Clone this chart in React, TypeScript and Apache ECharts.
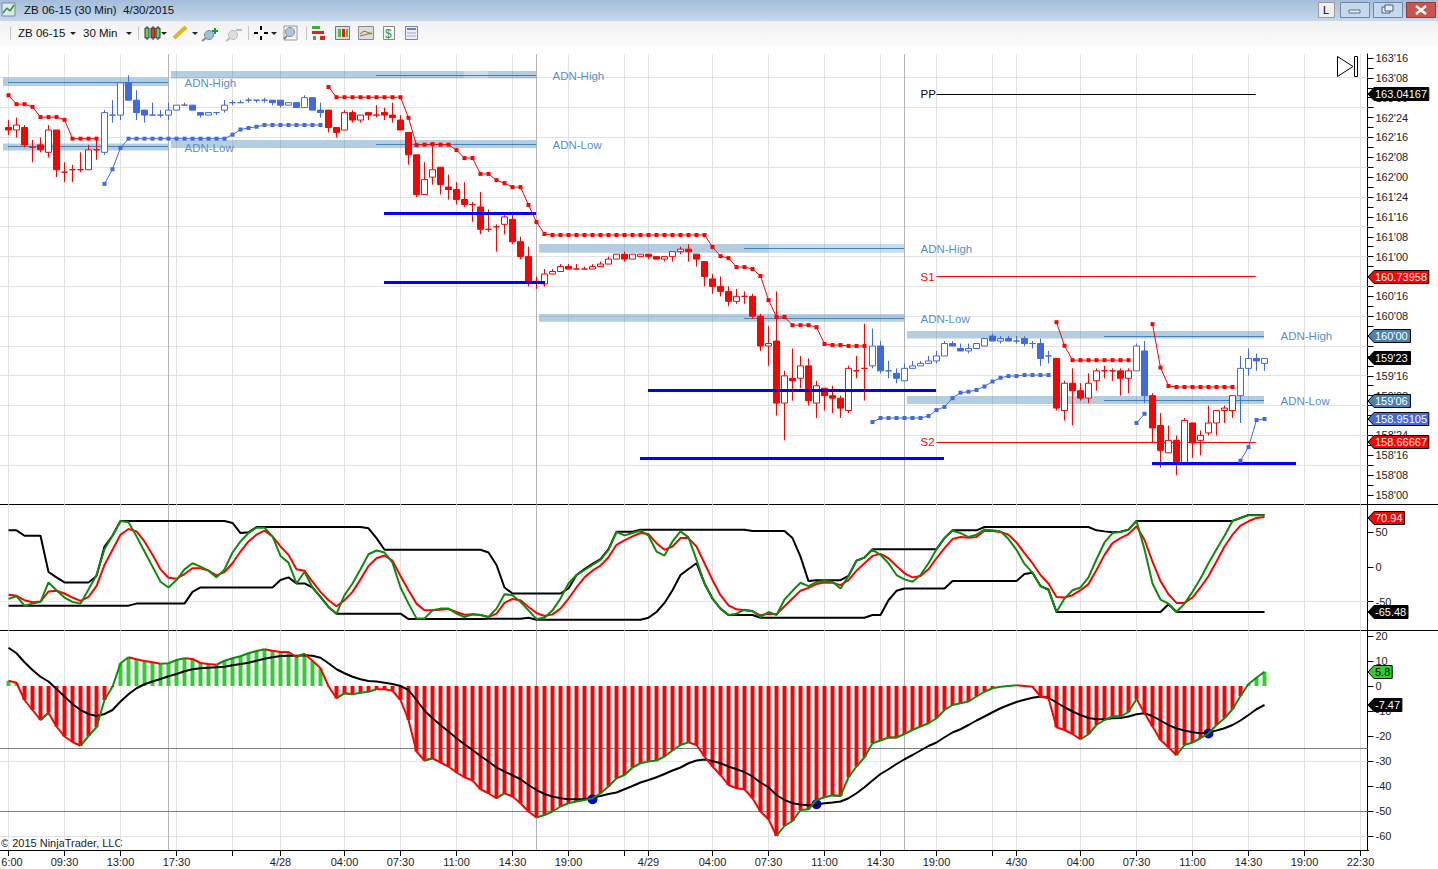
import React, { useEffect, useRef } from "react";
import * as echarts from "echarts";

const _ = null;
// ZB futures prices are quoted in 32nds: every price array holds 32nds above BASE_PRICE.
const BASE_PRICE = 158;
const OPEN32 = [148,147,148,140,141,138,147,130,131,131,131,139,138,153,153,166,159,155,153,153,153,155,157,157,154,153,154,155,158,158,159,159,159,159,159,157,158,156,160,155,155,148,147,154,151,154,153,154,153,151,146,137,121,128,132,124,123,119,117,116,107,108,109,111,102,96,86,85,89,90,92,91,91,91,92,93,95,97,95,96,97,96,95,96,98,99,97,94,87,84,82,78,80,80,72,60,62,37,47,47,52,37,43,40,39,34,50,51,52,60,50,49,46,51,52,53,54,56,61,59,58,59,60,64,62,63,62,63,61,61,56,55,34,45,42,39,46,50,50,50,47,50,58,40,28,17,22,13,29,22,25,29,34,34,40,51,55,53];
const CLOSE32 = [147,149,141,140,139,147,131,130,131,131,139,139,154,153,166,159,154,153,153,153,155,157,157,155,153,154,154,157,158,158,159,159,159,158,157,158,156,160,155,154,148,146,154,151,153,153,153,153,152,147,137,121,127,131,125,123,119,117,117,107,107,108,112,102,96,86,86,89,90,92,91,91,91,92,93,95,97,95,97,97,96,95,96,98,99,98,95,88,84,82,78,80,80,72,60,61,37,48,46,52,38,44,40,39,35,51,50,51,60,50,50,47,51,52,53,54,56,61,60,58,59,61,63,62,63,62,62,61,61,55,56,35,45,42,39,45,50,50,50,47,50,60,40,27,18,22,13,30,21,24,29,34,35,40,51,55,54,55];
const HIGH32 = [151,152,149,143,144,149,147,134,133,138,141,144,155,159,166,169,163,155,158,155,158,157,158,157,154,154,154,159,159,159,160,159,160,159,159,158,158,161,160,158,155,148,155,155,153,154,157,156,158,153,146,137,134,142,132,129,126,126,118,122,115,109,113,114,104,100,88,91,91,93,93,93,92,93,94,96,97,98,97,97,97,96,96,98,100,101,97,94,89,88,84,83,82,81,73,68,82,50,59,56,55,46,43,44,40,52,56,69,67,62,54,51,53,54,54,56,58,62,62,61,61,61,63,65,64,64,64,64,62,63,58,55,46,51,45,49,51,52,51,51,51,61,62,41,33,28,24,31,29,26,36,34,36,40,56,59,57,55];
const LOW32 = [145,144,140,134,138,136,128,126,126,130,131,135,137,150,151,159,151,150,153,152,151,155,157,155,152,153,153,154,157,158,158,158,158,157,156,157,156,156,155,152,146,144,147,150,150,151,152,151,150,147,133,120,121,125,121,119,117,116,110,105,106,98,105,101,95,84,83,84,89,90,91,91,91,91,92,93,95,94,95,96,95,95,94,94,97,94,92,84,81,80,76,77,77,71,58,52,32,22,38,43,36,31,34,33,31,33,47,38,51,49,47,45,46,51,52,53,53,56,60,58,57,59,60,62,61,62,61,60,59,52,53,34,30,28,38,37,42,47,46,40,41,50,37,21,11,17,8,13,15,16,24,24,29,31,29,48,50,50];
const BLUE_CANDLE_RUNS = [[12,39],[108,130],[141,142],[154,157]];
const RED_STOP32 = [161,157.4,157.4,156.3,152.2,152.2,152.2,151.1,143.5,143.5,143.5,143.5,_,_,_,_,_,_,_,_,_,_,_,_,_,_,_,_,_,_,_,_,_,_,_,_,_,_,_,_,164.3,160.2,160.2,160.2,160.2,160.2,160.2,160.2,160.2,160.2,151.9,140.9,141.1,141.3,141.1,141.1,138.9,135.7,135.7,129.3,129.3,126.8,125.6,124,124,116.8,109.9,105.1,104.7,104.7,104.7,104.7,104.7,104.7,104.7,104.7,104.7,104.7,104.7,104.7,104.7,104.7,104.7,104.7,104.7,104.7,104.7,104.7,99.9,96.2,95.4,91.8,91.8,91,88.2,78.5,71.7,71.7,68.4,68.4,68.4,67.6,60.8,60.4,60.4,60,60,60,_,_,_,_,_,_,_,_,_,_,_,_,_,_,_,_,_,_,_,_,_,_,_,69.6,60.1,54.3,54.3,54.3,54.3,54.3,54.3,54.3,54.3,_,_,68.8,51.3,43.9,43.5,43.5,43.5,43.5,43.5,43.5,43.5,43.5,_,_,_,_];
const BLUE_STOP32 = [_,_,_,_,_,_,_,_,_,_,_,_,125.3,131.2,139.8,143.5,143.5,143.5,143.5,143.5,143.5,143.5,143.5,143.5,143.5,143.5,143.5,143.5,145.1,147.2,147.8,148.3,149,149,149,149,149,149,149,149,_,_,_,_,_,_,_,_,_,_,_,_,_,_,_,_,_,_,_,_,_,_,_,_,_,_,_,_,_,_,_,_,_,_,_,_,_,_,_,_,_,_,_,_,_,_,_,_,_,_,_,_,_,_,_,_,_,_,_,_,_,_,_,_,_,_,_,_,29.4,31,31,31,31,31,31,31.8,34.2,35.5,39,41.2,41.6,42.3,43.7,45.7,47.2,47.9,47.9,48.3,48.3,48.3,48.3,_,_,_,_,_,_,_,_,_,_,29,32.7,_,_,_,_,_,_,_,_,_,_,_,13.8,19.3,30.2,30.6];

const STOCH_UPPER = [52.9,52.9,45.1,45.1,45.1,-7.3,-15,-22.3,-22.3,-22.3,-22.3,-13.1,29.6,45.1,66.5,66.5,66.5,66.5,66.5,66.5,66.5,66.5,66.5,66.5,66.5,66.5,66.5,66.5,63.6,49,50,57.7,57.7,57.7,57.7,57.7,57.7,57.7,57.7,57.7,57.7,57.7,57.7,57.7,57.7,55.8,41.7,24.8,24.8,24.8,24.8,24.8,24.8,24.8,24.8,24.8,24.8,24.8,24.8,24.8,20.9,2.9,-29.6,-38.3,-38.3,-38.3,-38.3,-38.3,-38.3,-38.3,-31,-11.6,-2.9,4.4,11.2,25.7,51,51,51,53.9,53.9,53.9,53.9,53.9,53.9,53.9,53.9,53.9,53.9,53.9,53.9,53.9,53.9,52,52,52,52,52,41.7,15,-20.4,-19,-19,-19,-19,-13,9.2,13.6,25.7,25.7,25.7,25.7,25.7,25.7,25.7,25.7,25.7,41.7,53,53,52.9,52.9,57.7,57.7,57.7,57.7,57.7,57.7,57.7,57.7,57.7,57.7,57.7,57.7,57.7,57.7,52.9,51.4,50,50.9,53.9,66.5,66.5,66.5,66.5,66.5,66.5,66.5,66.5,66.5,66.5,66.5,66.5,66.5,70.8,75.2,75.2,75.2];
const STOCH_LOWER = [-55.8,-55.8,-55.8,-55.8,-55.8,-55.8,-55.8,-55.8,-55.8,-55.8,-55.8,-55.8,-55.8,-55.8,-55.8,-55.8,-52.9,-52.9,-52.9,-52.9,-52.9,-52.9,-52.9,-35.9,-29.6,-29.6,-29.6,-29.6,-29.6,-29.6,-29.6,-29.6,-29.6,-29.6,-18.9,-15,-23.8,-23.8,-29.6,-43.2,-57.7,-67.4,-67.4,-67.4,-67.4,-67.4,-67.4,-67.4,-67.4,-67.4,-75.2,-75.2,-75.2,-75.2,-75.2,-75.2,-75.2,-75.2,-75.2,-75.2,-74.7,-74.7,-74.7,-74.7,-74.7,-73.2,-76.1,-76.1,-76.1,-76.1,-76.1,-76.1,-76.1,-76.1,-76.1,-76.1,-76.1,-76.1,-76.1,-76.1,-73.2,-65,-51.9,-33.5,-11.6,-2.9,5.4,-23.8,-45.6,-60.1,-69.3,-69.3,-69.3,-69.3,-73.2,-73.2,-73.2,-73.2,-73.2,-73.2,-73.2,-73.2,-73.2,-73.2,-73.2,-73.2,-73.2,-73.2,-69.3,-69.3,-48,-34.4,-31,-31,-31,-31,-31,-31,-20.4,-20.4,-20.4,-20.4,-20.4,-20.4,-20.4,-20.4,-20.4,-10.2,-8.2,-27.6,-32.5,-65,-65,-65,-65,-65,-65,-65,-65,-65,-65,-65,-65,-65,-65,-53.8,-65,-65,-65,-65,-65,-65,-65,-65,-65,-65,-65,-65];
const STOCH_K = [-46.1,-42.2,-55.8,-52.9,-50.4,-22.3,-33.5,-44.1,-50.4,-52.9,-32.5,-11.6,25.7,45.1,66.5,64.5,44.2,22.3,0.5,-21.3,-29.6,-18.9,-3.4,5.4,0.5,-5.3,-15,-3.4,20.9,36.9,49,56.8,56.8,44.2,16,6.3,-23.8,-6.8,-29.6,-43.2,-57.7,-67.4,-40.7,-23.8,-3.4,18.4,23.8,20.9,6.3,-29.6,-52.9,-74.2,-74.2,-62.6,-60.1,-60.1,-67.4,-72.3,-68.4,-69.3,-72.3,-60.1,-39.3,-40.7,-50.4,-62.6,-75.2,-73.2,-62.6,-45.6,-23.8,-11.6,-4.4,2.9,10.2,24.8,50.5,45.6,49,52.4,45.1,22.3,16.5,36.9,51.4,42.7,10.2,-23.8,-45.6,-60.1,-69.3,-67.4,-61.6,-63.5,-72.3,-65,-69.3,-47,-34.4,-22.8,-27.6,-21.8,-20.4,-21.3,-31,-13.1,9.2,13.6,24.8,17.5,5.4,-11.6,-17.9,-21.3,-11.6,5.4,25.7,41.7,52.4,49,43.2,46.6,53.9,52.9,51.4,40.3,24.8,4.4,-8.2,-27.6,-33.5,-65,-45.6,-33.5,-29.6,-15,11.2,35.4,49,50.5,53.9,66.5,25.7,-23.8,-47,-52.9,-65,-52.9,-35.9,-16.5,5.4,25.7,45.1,66.5,70.8,74.7,74.7,74.7];
const STOCH_D = [-40.2,-41.7,-48,-50.9,-49.9,-35.4,-34.4,-38.3,-44.1,-49,-43.2,-27.6,2.9,24.8,46.6,54.8,51.4,36.9,17.5,-3.4,-15.5,-17,-10.2,-1.9,-1.9,-5.3,-12.1,-7.3,5.4,22.3,36.9,46.6,52.4,44.2,29.6,17.5,-3.4,-5.3,-21.3,-35.9,-48,-56.7,-48,-35.9,-17.9,1.5,12.6,16.5,9.2,-13.1,-33.5,-52.9,-62.6,-62.6,-61.6,-60.6,-65,-68.9,-68.4,-69.3,-72.3,-67.4,-51.9,-46.1,-48,-57.7,-66.4,-70.8,-68.4,-60.1,-45.6,-29.6,-15,-5.3,1.9,14.1,32,38.3,44.2,49,47.5,34.4,24.8,29.6,41.7,41.7,29.6,5.4,-18.9,-40.7,-55.3,-61.1,-62.6,-64,-69.8,-67.4,-68.4,-56.7,-45.6,-34.4,-30.1,-24.7,-22.3,-22.8,-26.2,-18.9,-5.3,5.4,16,18.9,12.6,1.5,-9.2,-15,-13.1,-3.4,12.6,27.2,40.3,43.2,42.2,43.2,52.4,51.9,50.5,46.6,35.4,19.9,5.4,-11.6,-23.8,-43.2,-44.1,-40.7,-33.5,-24.7,-4.4,17.5,34.4,41.7,47.5,58.7,39.3,7.8,-20.4,-39.3,-51.9,-51.9,-44.1,-29.6,-13.1,7.8,29.6,46.6,59.7,66,70.8,72.3];
const MACD_LINE = [2.1,1.3,-5.6,-9.6,-13.6,-10.7,-16.2,-20.2,-22.4,-23.9,-20,-16.5,-5.6,-0.3,9.1,11.5,10.7,10,9.5,8.9,9.1,10.4,11.1,10.8,9.2,8.8,8.5,10.1,11.1,11.9,13.1,14,14.7,14.1,13.6,13.6,11.7,12.8,10.1,7.1,-0.1,-4.9,-2.9,-3.3,-2.7,-2.3,-1.3,-1.3,-1.9,-5.6,-13.6,-26.2,-29.8,-28.9,-30.6,-32.2,-34.6,-36.5,-37.8,-41.3,-42.9,-44.9,-42.9,-44.2,-46.9,-50.2,-52.6,-51.6,-50.2,-48.2,-46.9,-46.2,-45.6,-44.9,-42.9,-40.2,-36.9,-35.6,-32.6,-30.9,-30.2,-29.8,-28.2,-25.8,-23.6,-22.5,-23.6,-28.2,-32.2,-35.6,-39.6,-40.9,-41.3,-44.9,-50.2,-53.3,-60,-56,-54,-49.6,-49.3,-45.6,-44.5,-43.7,-44,-36.5,-32.2,-28.5,-22.9,-21.8,-20.6,-20.6,-19.2,-17.6,-16.2,-14.9,-12.9,-9.6,-7.6,-6.9,-6.2,-4.2,-2.3,-0.9,-0.3,0,0.3,0,-0.3,-4.2,-4.9,-16.5,-17.6,-19.2,-21.3,-19.3,-15.6,-13.6,-12.2,-12.2,-10.4,-5.2,-10.9,-16.2,-21.6,-24.5,-27.7,-23.6,-22.6,-20.9,-18.9,-15.6,-12.9,-9.3,-4,0.8,3.3,5.7];
const MACD_SIGNAL = [15.3,13.1,9.5,6.4,3.7,1.8,-1.2,-4.2,-7.2,-9.6,-11.2,-12,-11.2,-9.6,-6.2,-3.3,-0.9,0.7,1.8,2.8,3.9,4.8,5.9,6.7,7.1,7.3,7.5,7.7,8.3,8.8,9.3,10.1,10.9,11.5,12,12.1,12.1,12.3,12.1,11.3,9.1,6.7,5.1,3.7,2.7,2,1.8,1.3,0.8,0,-1.6,-5.6,-9.8,-12.9,-15.6,-18.2,-20.9,-23.3,-25.6,-28,-30.2,-32.6,-34.2,-35.7,-37.3,-39.6,-41.6,-43.2,-44.2,-44.9,-45.3,-45.3,-45.3,-44.6,-44,-43.2,-42.6,-41.3,-40,-38.6,-37.6,-36.5,-35.2,-33.8,-32.6,-30.9,-29.8,-29.4,-30,-30.9,-32.2,-33.3,-34.4,-36.2,-38.6,-40.5,-43.6,-45.6,-46.9,-47.4,-47.7,-47.4,-46.9,-46.6,-46.2,-44.9,-42.9,-40.5,-37.8,-35.2,-33.3,-31.2,-29.3,-27.6,-25.8,-24,-22.6,-20.5,-18.6,-17.3,-15.6,-13.8,-12.2,-10.5,-8.9,-7.6,-6.4,-5.5,-4.7,-4.2,-4.7,-6.6,-8.5,-10.2,-11.6,-12.8,-13.3,-13.3,-12.9,-12.8,-12.2,-11.3,-10.9,-12,-13.8,-15.6,-17,-17.8,-18.5,-18.9,-18.6,-17.8,-16.9,-15.6,-13.8,-11.6,-9.3,-7.6];
const CROSS_BARS = [73,101,150];
const CROSS_VALUES = [-45.3,-47.3,-19];

const TICK_BARS = [0,7,14,21,28,34,42,49,56,63,70,77,80,88,95,102,109,116,123,126,134,141,148,155,162,169];
const TICK_LABELS = ["6:00","09:30","13:00","17:30","","4/28","04:00","07:30","11:00","14:30","19:00","","4/29","04:00","07:30","11:00","14:30","19:00","","4/30","04:00","07:30","11:00","14:30","19:00","22:30"];
const SESSION_BARS = [20,66,112];
const LAST_AXIS_BAR = 170;

// [from bar, to bar, upper 32nds, lower 32nds]
const ZONES_DARK = [[-0.69,19.94,168.1,164.7],[-0.69,19.94,141.6,138.7],[20.31,56.94,170.8,167.7],[59.94,65.94,170.8,167.7],[20.31,65.94,143,139.7],[66.31,94.94,101.1,97.6],[66.31,111.94,72.9,69.8],[112.31,156.94,66,63],[112.31,156.94,39.9,36.6]];
const ZONES_LIGHT = [[56.94,59.94,170.8,167.7],[94.94,111.94,101.1,97.6]];
// [from bar, to bar, level in 32nds]
const ZONE_MIDS = [[-0.06,19.94,166.2],[-0.06,19.94,140.2],[45.94,65.94,169],[45.94,65.94,141],[91.94,111.94,99.4],[91.94,111.94,71.2],[136.94,156.94,64],[136.94,156.94,38]];
const BLUE_LEVELS = [[46.94,65.94,113.4],[46.94,67.06,85.7],[79.94,115.94,42.2],[78.94,116.94,14.7],[142.94,160.94,12.8]];
const PIVOT_BLACK = [[116,155.9,161.33]];
const PIVOT_RED = [[116,155.9,87.9],[116,155.9,21.33]];
const ADN_TEXTS = [[22,165.9,"ADN-High"],[22,139.7,"ADN-Low"],[68,168.7,"ADN-High"],[68,141,"ADN-Low"],[114,99,"ADN-High"],[114,71,"ADN-Low"],[159,64,"ADN-High"],[159,38,"ADN-Low"]];
const PIVOT_TEXTS = [[114,161.33,"PP","#000000"],[114,87.9,"S1","#ff0000"],[114,21.33,"S2","#ff0000"]];
const PRICE_GRID32 = [168,156,144,132,120,108,96,84,72,60,48,36,24,12];
// 160'24, 160'00 and 159'24 lie wholly behind the price tags in the reference
const PRICE_LABEL32 = [176,168,160,152,144,136,128,120,112,104,96,80,72,48,40,32,24,16,8,0];
const PRICE_TICK32 = [176,172,168,164,160,156,152,148,144,140,136,132,128,124,120,116,112,108,104,100,96,92,88,84,80,76,72,68,64,60,56,52,48,44,40,36,32,28,24,20,16,12,8,4,0];
const STOCH_LABELS = [50,0,-50];
const MACD_LABELS = [20,10,0,-10,-20,-30,-40,-50,-60];
const MACD_GRID = [-30,-60];
const MACD_LEVELS = [-25,-50];
const PRICE_TAGS = [[163.04167,"163.04167","#000000","#ffffff"],[160.73958,"160.73958","#ff0000","#ffffff"],[160,"160'00","#4682b4","#ffffff"],[159.71875,"159'23","#000000","#ffffff"],[159.1875,"159'06","#4682b4","#ffffff"],[158.95105,"158.95105","#4169e1","#ffffff"],[158.66667,"158.66667","#ff0000","#ffffff"]];
const STOCH_TAGS = [[70.94,"70.94","#ff0000","#ffffff"],[-65.48,"-65.48","#000000","#ffffff"]];
const MACD_TAGS = [[5.8,"5.8","#32cd32","#000000"],[-7.47,"-7.47","#000000","#ffffff"]];

const FONT = '"Liberation Sans", Arial, sans-serif';
const GRID_COLOR = "#e2e2e2";
const toPrice = (t: number | null) => (t == null ? null : BASE_PRICE + t / 32);
const crisp = (v: number) => Math.floor(v) + 0.5;
const tickSet = new Set(TICK_BARS.map((b) => b + 1));
const showTick = (index: number) => tickSet.has(index);
const categories = Array.from({ length: LAST_AXIS_BAR + 2 }, (_v, idx) => {
  const k = TICK_BARS.indexOf(idx - 1);
  return k >= 0 ? TICK_LABELS[k] : String(idx);
});
const lead = (arr: (number | null)[]) => [null, ...arr];

const isBlueBar = (i: number) => BLUE_CANDLE_RUNS.some(([a, b]) => i >= a && i <= b);
const candleItems = [
  { value: ["-", "-", "-", "-"] },
  ...OPEN32.map((o, i) => {
    const c = isBlueBar(i) ? "#4169e1" : "#ff0000";
    const fill = CLOSE32[i] > o ? "#ffffff" : c;
    return {
      value: [toPrice(o), toPrice(CLOSE32[i]), toPrice(LOW32[i]), toPrice(HIGH32[i])],
      itemStyle: { color: fill, color0: fill, borderColor: c, borderColor0: c, borderColorDoji: c, borderWidth: 1 },
    };
  }),
];

const slopeSegments = (rising: boolean) => {
  const out: (number | null)[] = MACD_LINE.map(() => null);
  for (let i = 0; i + 1 < MACD_LINE.length; i++) {
    const up = MACD_LINE[i + 1] > MACD_LINE[i];
    if (up === rising) {
      out[i] = MACD_LINE[i];
      out[i + 1] = MACD_LINE[i + 1];
    }
  }
  return out;
};

const xValueAxis = (gridIndex: number) => ({
  type: "value", gridIndex, min: -1, max: LAST_AXIS_BAR, show: false, splitLine: { show: false },
});
const xCatAxis = (gridIndex: number, bottom: boolean) => ({
  type: "category", gridIndex, data: categories, boundaryGap: false, position: "bottom",
  axisLine: { show: bottom, onZero: false, lineStyle: { color: "#000000", width: 1 } },
  axisTick: { show: bottom, interval: showTick, length: 6, lineStyle: { color: "#000000" } },
  axisLabel: { show: bottom, interval: showTick, margin: 6, fontFamily: FONT, fontSize: 11, color: "#222222",
    // the first label is pushed right so that it stays inside the page, as in the reference
    rich: { first: { padding: [0, 0, 0, 7], fontFamily: FONT, fontSize: 11, color: "#222222" } },
    formatter: (v: string) => (v === TICK_LABELS[0] ? `{first|${v}}` : TICK_LABELS.includes(v) ? v : "") },
  splitLine: { show: true, interval: showTick, lineStyle: { color: GRID_COLOR, width: 1 } },
});
const yAxis = (gridIndex: number, min: number, max: number, labels: number[], ticks: number[], formatter?: (v: number) => string) => ({
  type: "value", gridIndex, position: "right", offset: -1, min, max,
  axisLine: { show: true, onZero: false, lineStyle: { color: "#000000", width: 1 } },
  axisTick: { show: true, length: 6, customValues: ticks, lineStyle: { color: "#000000" } },
  axisLabel: { show: true, margin: 8, customValues: labels, fontFamily: FONT, fontSize: 11, color: "#222222", formatter },
  splitLine: { show: false },
});
const quote = (v: number) => {
  const t = Math.round((v - BASE_PRICE) * 32);
  const w = BASE_PRICE + Math.floor(t / 32);
  const f = ((t % 32) + 32) % 32;
  return `${w}'${String(f).padStart(2, "0")}`;
};

const custom = (panel: number, data: any[], renderItem: any, z: number) => ({
  type: "custom", coordinateSystem: "cartesian2d", xAxisIndex: panel + 3, yAxisIndex: panel, data, renderItem, z, silent: true,
  animation: false, encode: { x: 0, y: 1 },
});
const hLines = (panel: number, values: number[], color: string, z: number) =>
  custom(panel, values.map((v) => [0, v]), (params: any, api: any) => {
    const y = crisp(api.coord([0, api.value(1)])[1]);
    const cs = params.coordSys;
    return { type: "line", shape: { x1: 0, y1: y, x2: cs.x + cs.width - 1, y2: y }, style: { stroke: color, lineWidth: 1 } };
  }, z);
const sessionLines = (panel: number) =>
  custom(panel, SESSION_BARS.map((b) => [b, 0]), (params: any, api: any) => {
    const x = crisp(api.coord([api.value(0), 0])[0]);
    const cs = params.coordSys;
    return { type: "line", shape: { x1: x, y1: cs.y, x2: x, y2: cs.y + cs.height }, style: { stroke: "#b4b4b4", lineWidth: 1 } };
  }, 1);
const levelSegments = (rows: number[][], color: string, width: number, z: number) =>
  custom(0, rows.map((r) => [r[0], toPrice(r[2]), r[1]]), (_p: any, api: any) => {
    const a = api.coord([api.value(0), api.value(1)]);
    const b = api.coord([api.value(2), api.value(1)]);
    const y = width % 2 ? crisp(a[1]) : Math.round(a[1]);
    return { type: "line", shape: { x1: a[0], y1: y, x2: b[0], y2: y }, style: { stroke: color, lineWidth: width } };
  }, z);
const zoneRects = (rows: number[][], color: string) =>
  custom(0, rows.map((r) => [r[0], toPrice(r[2]), r[1], toPrice(r[3])]), (_p: any, api: any) => {
    const a = api.coord([api.value(0), api.value(1)]);
    const b = api.coord([api.value(2), api.value(3)]);
    return { type: "rect", shape: { x: a[0], y: a[1], width: b[0] - a[0], height: b[1] - a[1] }, style: { fill: color } };
  }, 2);
const levelTexts = (rows: any[], fixedColor?: string) =>
  custom(0, rows.map((r) => [r[0], toPrice(r[1])]), (p: any, api: any) => {
    const a = api.coord([api.value(0), api.value(1)]);
    const row = rows[p.dataIndex];
    return { type: "text", style: { x: a[0], y: a[1], text: row[2], fill: fixedColor || row[3], font: `11.5px ${FONT}`, textAlign: "left", textBaseline: "middle", verticalAlign: "middle" } };
  }, 8);
const tagWidth = (s: string) => 9 + [...s].reduce((w, ch) => w + (/[0-9]/.test(ch) ? 6.1 : ch === "-" ? 3.6 : 3), 0);
const tags = (panel: number, rows: any[]) =>
  custom(panel, rows.map((r) => [LAST_AXIS_BAR, r[0]]), (p: any, api: any) => {
    const row = rows[p.dataIndex];
    const y = Math.round(api.coord([0, api.value(1)])[1]);
    const x = 1368;
    const w = tagWidth(row[1]);
    return {
      type: "group",
      children: [
        { type: "polygon", shape: { points: [[x, y], [x + 6, y - 6.5], [x + w, y - 6.5], [x + w, y + 6.5], [x + 6, y + 6.5]] },
          style: { fill: row[2], stroke: "#000000", lineWidth: 1 } },
        { type: "text", style: { x: x + 7, y, text: row[1], fill: row[3], font: `11px ${FONT}`, textAlign: "left", verticalAlign: "middle", textBaseline: "middle" } },
      ],
    };
  }, 20);
const lineSeries = (panel: number, data: (number | null)[], color: string, z: number, width = 2) => ({
  type: "line", xAxisIndex: panel, yAxisIndex: panel, data: lead(data), showSymbol: false, symbol: "none", silent: true, z,
  connectNulls: false, smooth: false, lineStyle: { color, width }, itemStyle: { color },
});
const stopSeries = (data: (number | null)[], color: string) => ({
  type: "line", xAxisIndex: 0, yAxisIndex: 0, data: lead(data.map(toPrice)), symbol: "rect", symbolSize: 4, showSymbol: true, showAllSymbol: true, silent: true, z: 7,
  connectNulls: false, lineStyle: { color, width: 1 }, itemStyle: { color },
});

const titleGradient = () => new echarts.graphic.LinearGradient(0, 0, 0, 1, [{ offset: 0, color: "#a4bcd9" }, { offset: 1, color: "#c6d9ec" }]);
const toolGradient = () => new echarts.graphic.LinearGradient(0, 0, 0, 1, [{ offset: 0, color: "#f1f1f1" }, { offset: 1, color: "#fbfbfb" }]);
const r = (x: number, y: number, width: number, height: number, fill: any, stroke?: string) => ({ type: "rect", shape: { x, y, width, height }, style: { fill, stroke, lineWidth: 1 }, silent: true });
const ln = (x1: number, y1: number, x2: number, y2: number, stroke: string, lineWidth = 1) => ({ type: "line", shape: { x1, y1, x2, y2 }, style: { stroke, lineWidth }, silent: true });
const tx = (x: number, y: number, text: string, fill = "#111111", size = 11.5) => ({ type: "text", x, y, style: { text, fill, font: `${size}px ${FONT}`, textVerticalAlign: "middle", verticalAlign: "middle" }, silent: true });
const caret = (x: number, y: number) => ({ type: "polygon", shape: { points: [[x, y], [x + 6, y], [x + 3, y + 3]] }, style: { fill: "#222222" }, silent: true });

const chromeElements = [
  r(0, 0, 1438, 21, titleGradient()),
  r(0, 21, 1438, 25, toolGradient()),
  r(2, 3, 13, 13, "#dfe8ef", "#7a8a99"),
  ln(3, 13, 7, 8, "#2d8f2d", 1.5), ln(7, 8, 10, 11, "#2d8f2d", 1.5), ln(10, 11, 14, 5, "#2d8f2d", 1.5),
  tx(24, 10, "ZB 06-15 (30 Min)  4/30/2015"),
  r(1318.5, 2.5, 16, 15, "#eeeeee", "#999999"), tx(1323, 10, "L", "#000000", 11),
  r(1340.5, 2.5, 29, 15, "#c5d8ec", "#6d87a5"), r(1349, 10, 11, 3, "#e8eef5", "#5c7188"),
  r(1373.5, 2.5, 29, 15, "#c5d8ec", "#6d87a5"), r(1382, 7, 8, 6, "#e8eef5", "#4b5d72"), r(1385, 5, 8, 6, "#e8eef5", "#4b5d72"),
  r(1406.5, 2.5, 29, 15, "#c8564f", "#8c3a36"), ln(1416, 6, 1426, 14, "#ffffff", 2.5), ln(1426, 6, 1416, 14, "#ffffff", 2.5),
  ln(10.5, 26, 10.5, 40, "#c4c4c4"), tx(18, 33, "ZB 06-15"), caret(70, 32), tx(83, 33, "30 Min"), caret(126, 32),
  ln(138.5, 26, 138.5, 40, "#c4c4c4"),
  ln(147, 26, 147, 40, "#333333"), r(145, 28, 4, 10, "#5fd35f", "#333333"), ln(153, 26, 153, 40, "#333333"), r(151, 28, 4, 10, "#e33333", "#333333"), ln(158, 26, 158, 40, "#333333"), r(156, 28, 4, 10, "#5fd35f", "#333333"), caret(161, 32),
  ln(174, 38, 186, 27, "#e0b81e", 4), caret(192, 32),
  { type: "circle", shape: { cx: 209, cy: 35, r: 4.5 }, style: { fill: "#9cc0dc", stroke: "#8a8a8a" }, silent: true }, ln(206, 38, 202, 41, "#888888", 2), ln(215, 28, 215, 34, "#18a018", 2), ln(212, 31, 218, 31, "#18a018", 2),
  { type: "circle", shape: { cx: 233, cy: 35, r: 4.5 }, style: { fill: "#dddddd", stroke: "#bbbbbb" }, silent: true }, ln(230, 38, 226, 41, "#bbbbbb", 2), ln(236, 30, 242, 30, "#bbbbbb", 2),
  ln(248.5, 26, 248.5, 40, "#c4c4c4"),
  ln(261, 26, 261, 30, "#000000", 2), ln(261, 36, 261, 40, "#000000", 2), ln(254, 33, 258, 33, "#000000", 2), ln(264, 33, 268, 33, "#000000", 2), caret(271, 32),
  r(284, 26, 13, 14, "#f4f4f4", "#9a9a9a"), { type: "circle", shape: { cx: 290, cy: 32, r: 4.5 }, style: { fill: "#a9c7de", stroke: "#8a8a8a" }, silent: true }, ln(287, 36, 284, 39, "#888888", 2),
  ln(306.5, 26, 306.5, 40, "#c4c4c4"),
  r(312, 26, 8, 3, "#2fb82f"), r(312, 31, 12, 3, "#dd2222"), r(320, 36, 5, 4, "#dd2222"), r(313, 36, 3, 4, "#2fb82f"),
  r(335.5, 26.5, 14, 13, "#dddddd", "#777777"), r(338, 29, 3, 8, "#42c142"), r(342, 29, 3, 8, "#dd2222"), r(346, 29, 2, 8, "#42c142"),
  r(358.5, 26.5, 15, 13, "#dcdcdc", "#8a8a8a"), ln(360, 34, 364, 31, "#2f9f2f"), ln(364, 31, 372, 34, "#2f9f2f"), ln(360, 36, 372, 33, "#d04a4a"),
  r(383.5, 26.5, 11, 13, "#f7f7f7", "#8a8a8a"), tx(385, 33.5, "$", "#1e9b1e", 12),
  r(405.5, 26.5, 12, 13, "#eeeeff", "#8080a0"), r(407, 28, 9, 2, "#6a80b8"), ln(407, 33, 416, 33, "#9aa6c8"), ln(407, 36, 416, 36, "#9aa6c8"),
  { type: "polygon", shape: { points: [[1337.5, 56.5], [1353, 66.5], [1337.5, 76.5]] }, style: { fill: "#ffffff", stroke: "#000000", lineWidth: 1 }, silent: true },
  r(1354.5, 56.5, 3, 20, "#ffffff", "#000000"),
  ln(0, 504.5, 1438, 504.5, "#000000"), ln(0, 630.5, 1438, 630.5, "#000000"),
  tx(1, 843, "\u00A9 2015 NinjaTrader, LLC", "#222222", 11),
];

const PRICE_MIN = 157.8804;
const PRICE_MAX = 163.55;

const option: any = {
  animation: false,
  backgroundColor: "#ffffff",
  grid: [
    { left: 0.5, top: 54, width: 1368, height: 450.5, outerBoundsMode: "none" },
    { left: 0.5, top: 504.5, width: 1368, height: 126, outerBoundsMode: "none" },
    { left: 0.5, top: 630.5, width: 1368, height: 219.5, outerBoundsMode: "none" },
  ],
  xAxis: [xCatAxis(0, false), xCatAxis(1, false), xCatAxis(2, true), xValueAxis(0), xValueAxis(1), xValueAxis(2)],
  yAxis: [
    yAxis(0, PRICE_MIN, PRICE_MAX, PRICE_LABEL32.map((t) => toPrice(t) as number), PRICE_TICK32.map((t) => toPrice(t) as number), quote),
    yAxis(1, -91.7, 90.2, STOCH_LABELS, STOCH_LABELS),
    yAxis(2, -65.6, 22.2, MACD_LABELS, MACD_LABELS),
  ],
  graphic: { elements: chromeElements },
  series: [
    hLines(0, PRICE_GRID32.map((t) => toPrice(t) as number), GRID_COLOR, 1),
    hLines(1, [-50], GRID_COLOR, 1),
    hLines(2, MACD_GRID, GRID_COLOR, 1),
    sessionLines(0), sessionLines(1), sessionLines(2),
    zoneRects(ZONES_DARK, "rgba(70,130,180,0.4)"),
    zoneRects(ZONES_LIGHT, "rgba(70,130,180,0.28)"),
    levelSegments(ZONE_MIDS, "#4682b4", 1, 3),
    levelSegments(PIVOT_BLACK, "#000000", 1, 3),
    levelSegments(PIVOT_RED, "#ff0000", 1, 3),
    { type: "candlestick", xAxisIndex: 0, yAxisIndex: 0, data: candleItems, barWidth: 6, silent: true, z: 5 },
    stopSeries(RED_STOP32, "#ff0000"),
    stopSeries(BLUE_STOP32, "#4169e1"),
    levelSegments(BLUE_LEVELS, "#0000ff", 3, 6),
    levelTexts(ADN_TEXTS, "#5b8fc4"),
    levelTexts(PIVOT_TEXTS),
    tags(0, PRICE_TAGS),
    lineSeries(1, STOCH_UPPER, "#000000", 3),
    lineSeries(1, STOCH_LOWER, "#000000", 3),
    lineSeries(1, STOCH_D, "#ff0000", 4),
    lineSeries(1, STOCH_K, "#0f8a0f", 5),
    tags(1, STOCH_TAGS),
    hLines(2, MACD_LEVELS, "#808080", 2),
    { type: "bar", xAxisIndex: 2, yAxisIndex: 2, barWidth: 4, silent: true, z: 3,
      data: lead(MACD_LINE).map((v) => (v == null ? null : { value: v, itemStyle: { color: v > 0 ? "#32cd32" : "#ff0000" } })) },
    { type: "scatter", xAxisIndex: 5, yAxisIndex: 2, symbolSize: 10, silent: true, z: 4, itemStyle: { color: "#0000cd", opacity: 1 },
      data: CROSS_BARS.map((b, i) => [b, CROSS_VALUES[i]]) },
    lineSeries(2, MACD_SIGNAL, "#000000", 5),
    lineSeries(2, slopeSegments(false), "#ff0000", 6),
    lineSeries(2, slopeSegments(true), "#0f8a0f", 7),
    tags(2, MACD_TAGS),
  ],
};

export default function App() {
  const ref = useRef<HTMLDivElement>(null);
  useEffect(() => {
    document.body.style.margin = "0";
    const chart = echarts.init(ref.current as HTMLDivElement, null, { renderer: "svg" });
    chart.setOption(option);
    return () => chart.dispose();
  }, []);
  return <div ref={ref} style={{ width: 1438, height: 869 }} />;
}
